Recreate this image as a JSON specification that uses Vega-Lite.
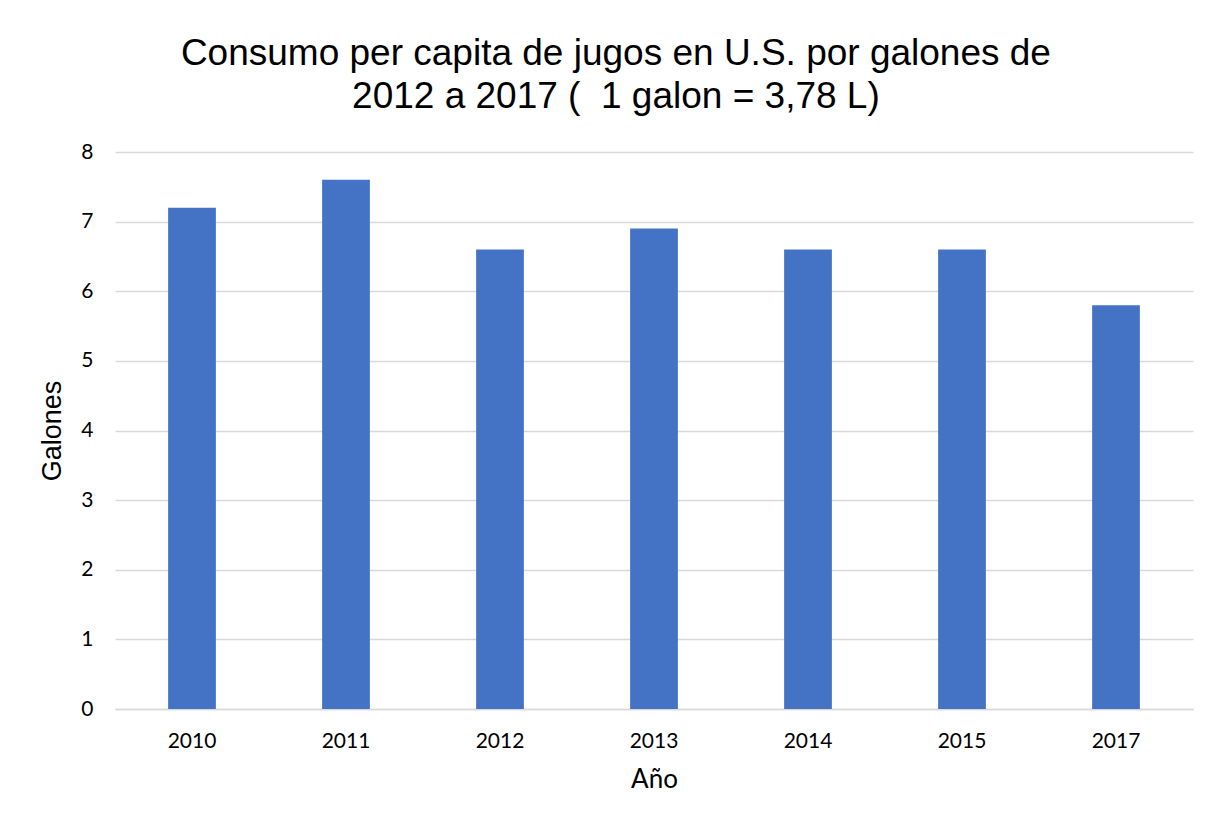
{
  "$schema": "https://vega.github.io/schema/vega-lite/v6.json",
  "width": 1078,
  "height": 557,
  "autosize": {"type": "none"},
  "padding": {"left": 115, "top": 152, "right": 15, "bottom": 108},
  "background": "white",
  "title": {
    "text": ["Consumo per capita de jugos en U.S. por galones de", "2012 a 2017 ( \u00a01 galon = 3,78 L)"],
    "font": "Liberation Sans",
    "fontSize": 37,
    "fontWeight": "normal",
    "color": "#000000",
    "lineHeight": 43,
    "anchor": "middle",
    "frame": "bounds",
    "offset": 25
  },
  "data": {
    "values": [
      {"year": "2010", "gal": 7.2},
      {"year": "2011", "gal": 7.6},
      {"year": "2012", "gal": 6.6},
      {"year": "2013", "gal": 6.9},
      {"year": "2014", "gal": 6.6},
      {"year": "2015", "gal": 6.6},
      {"year": "2017", "gal": 5.8}
    ]
  },
  "mark": {"type": "bar", "color": "#4472C4"},
  "encoding": {
    "x": {
      "field": "year",
      "type": "ordinal",
      "sort": null,
      "scale": {"paddingInner": 0.69, "paddingOuter": 0.345},
      "axis": {
        "title": "Año",
        "titleFont": "Lato",
        "titleFontSize": 26,
        "titleFontWeight": "normal",
        "titleColor": "#000000",
        "titlePadding": 15,
        "labelAngle": 0,
        "labelFont": "Lato",
        "labelFontSize": 21,
        "labelColor": "#000000",
        "labelPadding": 21,
        "ticks": false,
        "domainColor": "#d9d9d9",
        "domainWidth": 1.5
      }
    },
    "y": {
      "field": "gal",
      "type": "quantitative",
      "scale": {"domain": [0, 8]},
      "axis": {
        "title": "Galones",
        "titleFont": "Liberation Sans",
        "titleFontSize": 27,
        "titleFontWeight": "normal",
        "titleColor": "#000000",
        "titlePadding": 14,
        "values": [0, 1, 2, 3, 4, 5, 6, 7, 8],
        "labelOverlap": false,
        "labelFont": "Lato",
        "labelFontSize": 21,
        "labelColor": "#000000",
        "labelPadding": 22,
        "ticks": false,
        "domain": false,
        "gridColor": "#d9d9d9",
        "gridWidth": 1.5
      }
    }
  },
  "config": {"view": {"stroke": null}}
}
